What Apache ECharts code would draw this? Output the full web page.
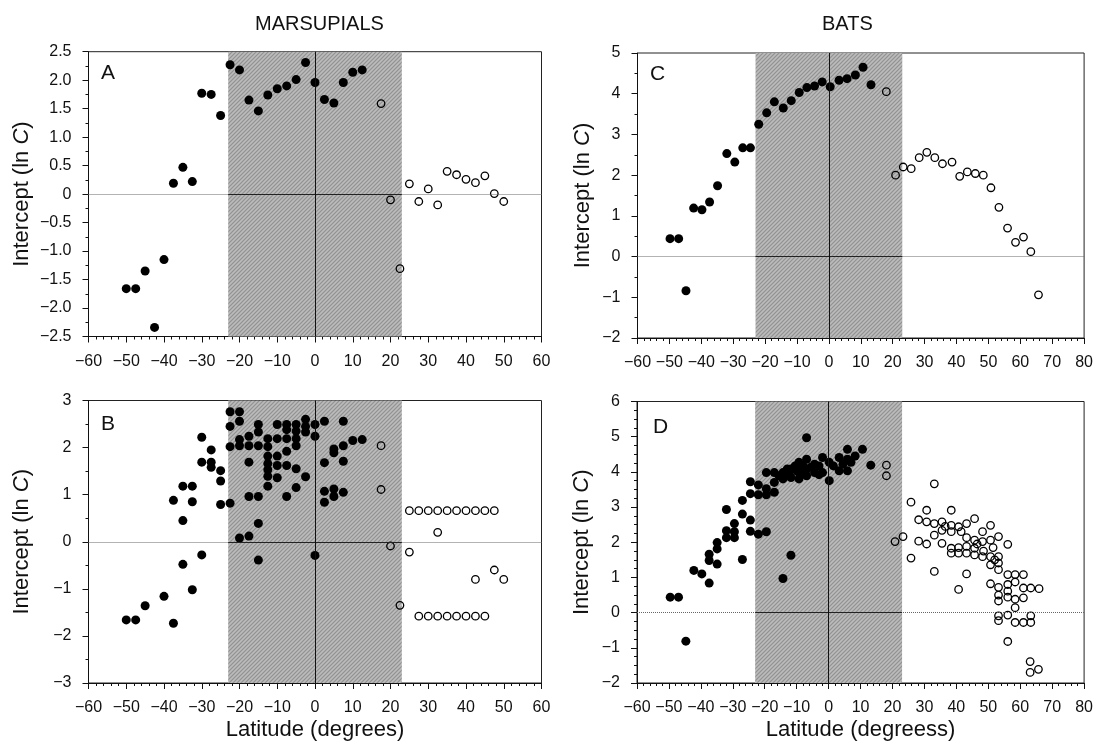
<!DOCTYPE html>
<html>
<head>
<meta charset="utf-8">
<script src="https://cdn.jsdelivr.net/npm/echarts@6/dist/echarts.min.js"></script>
<style>html,body{margin:0;padding:0;background:#fff;}#c{width:1096px;height:742px;}</style>
</head>
<body>
<div id="c"></div>
<script>
// ---------- DATA (latitude, intercept ln C) ----------
const panelTitles = ['MARSUPIALS', 'BATS'];
const panelLetters = ['A', 'B', 'C', 'D'];
const tropicLimits = [-23, 23];

const aFilled = [[-50,-1.66],[-47.5,-1.66],[-45,-1.35],[-42.5,-2.34],[-40,-1.15],[-37.5,0.19],[-35,0.47],[-32.5,0.22],[-30,1.77],[-27.5,1.75],[-25,1.38],[-22.5,2.27],[-20,2.18],[-17.5,1.65],[-15,1.46],[-12.5,1.74],[-10,1.85],[-7.5,1.90],[-5,2.01],[-2.5,2.31],[0,1.96],[2.5,1.66],[5,1.60],[7.5,1.96],[10,2.14],[12.5,2.18]];
const aOpen = [[17.5,1.59],[20,-0.10],[22.5,-1.31],[25,0.18],[27.5,-0.13],[30,0.09],[32.5,-0.19],[35,0.40],[37.5,0.34],[40,0.26],[42.5,0.20],[45,0.32],[47.5,0.01],[50,-0.13]];

const bFilled = [[-50,-1.66],[-47.5,-1.66],[-45,-1.36],[-40,-1.16],[-37.5,-1.73],[-37.5,0.88],[-35,1.18],[-35,0.45],[-35,-0.48],[-32.5,1.18],[-32.5,0.85],[-32.5,-1.02],[-30,2.22],[-30,1.69],[-30,-0.28],[-27.5,1.95],[-27.5,1.69],[-27.5,1.58],[-25,1.51],[-25,1.29],[-25,0.79],[-22.5,0.82],[-22.5,2.76],[-22.5,2.45],[-22.5,2.02],[-20,2.76],[-20,2.56],[-20,2.17],[-20,2.04],[-20,0.08],[-17.5,2.24],[-17.5,2.04],[-17.5,1.69],[-17.5,0.96],[-17.5,0.12],[-15,2.49],[-15,2.33],[-15,2.04],[-15,0.96],[-15,0.39],[-15,-0.39],[-12.5,2.19],[-12.5,2.02],[-12.5,1.82],[-12.5,1.66],[-12.5,1.53],[-12.5,1.39],[-12.5,1.18],[-10,2.49],[-10,2.19],[-10,1.82],[-10,1.62],[-10,1.36],[-7.5,2.49],[-7.5,2.38],[-7.5,2.19],[-7.5,1.92],[-7.5,1.62],[-7.5,0.96],[-5,2.49],[-5,2.35],[-5,2.19],[-5,2.04],[-5,1.55],[-5,1.15],[-2.5,2.60],[-2.5,2.45],[-2.5,2.33],[-2.5,1.38],[0,2.49],[0,2.24],[0,-0.29],[2.5,2.56],[2.5,1.68],[2.5,1.07],[2.5,0.84],[5,1.97],[5,1.89],[5,1.12],[5,0.96],[7.5,2.56],[7.5,2.04],[7.5,1.71],[7.5,1.05],[10,2.15],[12.5,2.17]];
const bOpen = [[17.5,2.04],[17.5,1.11],[20,-0.09],[22.5,-1.35],[25,-0.22],[25,0.66],[27.5,0.66],[30,0.66],[32.5,0.66],[35,0.66],[37.5,0.66],[40,0.66],[42.5,0.66],[45,0.66],[47.5,0.66],[32.5,0.20],[42.5,-0.80],[47.5,-0.60],[50,-0.80],[27.5,-1.58],[30,-1.58],[32.5,-1.58],[35,-1.58],[37.5,-1.58],[40,-1.58],[42.5,-1.58],[45,-1.58]];

const cFilled = [[-49.8,0.44],[-47.1,0.44],[-44.8,-0.84],[-42.4,1.19],[-39.8,1.15],[-37.4,1.34],[-34.9,1.74],[-32.0,2.53],[-29.5,2.32],[-27.0,2.67],[-24.6,2.67],[-22.0,3.25],[-19.5,3.53],[-17.1,3.80],[-14.3,3.65],[-11.8,3.83],[-9.3,4.03],[-6.9,4.15],[-4.5,4.19],[-2.1,4.29],[0.4,4.17],[3.2,4.33],[5.7,4.37],[8.3,4.46],[10.7,4.65],[13.2,4.22]];
const cOpen = [[18.0,4.05],[20.9,2.00],[23.3,2.20],[25.8,2.16],[28.3,2.43],[30.7,2.56],[33.2,2.43],[35.6,2.28],[38.6,2.32],[41.0,1.97],[43.4,2.08],[45.9,2.04],[48.4,2.00],[50.8,1.69],[53.3,1.21],[56.0,0.70],[58.5,0.35],[61.0,0.48],[63.3,0.12],[65.7,-0.94]];

const dFilled = [[-49.6,0.44],[-47.0,0.44],[-44.7,-0.81],[-42.2,1.20],[-39.7,1.10],[-37.4,0.84],[-37.4,1.66],[-37.4,1.48],[-34.9,1.99],[-34.9,1.81],[-34.9,1.38],[-32.0,2.93],[-32.0,2.33],[-32.0,2.13],[-29.5,2.53],[-29.5,2.30],[-29.5,2.13],[-27.0,3.19],[-27.0,2.80],[-27.0,1.51],[-24.5,3.72],[-24.5,3.38],[-24.5,2.63],[-24.5,2.31],[-22.0,3.63],[-22.0,3.35],[-22.0,2.23],[-19.5,3.98],[-19.5,3.35],[-19.5,3.52],[-19.5,2.30],[-17.0,3.98],[-17.0,3.70],[-17.0,3.42],[-14.3,3.98],[-14.3,3.80],[-14.3,0.97],[-11.8,4.08],[-11.8,3.84],[-11.8,1.63],[-9.3,4.27],[-9.3,3.98],[-9.3,3.80],[-6.9,4.97],[-6.9,4.36],[-6.9,4.08],[-6.9,3.89],[-4.4,4.22],[-4.4,3.98],[-1.9,4.41],[-1.9,3.98],[0.2,3.75],[0.2,4.27],[3.3,4.41],[3.3,4.03],[5.9,4.64],[5.9,4.36],[5.9,4.03],[8.3,4.45],[10.6,4.64],[13.2,4.19],[-13.0,4.08],[-10.5,4.17],[-8.0,4.17],[-5.5,4.13],[-3.0,4.17],[-15.5,3.89],[-12.5,3.92],[-10.0,4.03],[-7.5,3.95],[-3.0,3.92],[1.5,4.17],[4.5,4.22],[7.0,4.27]];
const dOpen = [[18.1,4.19],[18.1,3.89],[20.8,2.02],[23.3,2.16],[25.8,3.14],[25.8,1.55],[28.2,2.64],[28.2,2.03],[30.7,2.91],[30.7,2.58],[30.7,1.95],[33.1,3.66],[33.1,2.53],[33.1,2.20],[33.1,1.17],[35.5,2.58],[35.5,2.34],[35.5,1.97],[38.4,2.91],[38.4,2.48],[38.4,2.30],[38.4,1.83],[38.4,1.69],[40.7,2.44],[40.7,1.85],[40.7,1.69],[40.7,0.66],[43.2,2.53],[43.2,2.13],[43.2,1.88],[43.2,1.69],[43.2,1.10],[45.7,2.67],[45.7,2.06],[45.7,1.83],[45.7,1.64],[48.2,2.30],[48.2,2.02],[48.2,1.59],[50.7,2.48],[50.7,2.06],[50.7,1.59],[50.7,1.36],[50.7,0.82],[53.2,2.16],[53.2,1.59],[53.2,1.41],[53.2,1.22],[53.2,0.72],[53.2,0.50],[53.2,0.33],[53.2,-0.09],[53.2,-0.23],[56.1,1.94],[56.1,1.08],[56.1,0.80],[56.1,0.61],[56.1,0.44],[56.1,-0.07],[56.1,-0.82],[58.4,1.08],[58.4,0.87],[58.4,0.38],[58.4,0.14],[58.4,-0.28],[61.0,1.08],[61.0,0.70],[61.0,0.42],[61.0,-0.28],[63.3,0.70],[63.3,-0.09],[63.3,-0.28],[65.9,0.68],[63.1,-1.39],[63.1,-1.70],[65.7,-1.61],[36.5,2.45],[41.5,2.30],[46.5,1.95],[48.5,1.75],[51.5,1.85],[52.0,1.50]];

// axis ranges [xMin, xMax, yMin, yMax, yInterval, yDecimals]
const ranges = [[-60,60,-2.5,2.5,0.5,1],[-60,60,-3,3,1,0],[-60,80,-2,5,1,0],[-60,80,-2,6,1,0]];
const xNames = ['', 'Latitude (degrees)', '', 'Latitude (degreess)'];

// ---------- RENDER ----------
const FONT = 'Liberation Sans, Arial, Helvetica, sans-serif';
const chart = echarts.init(document.getElementById('c'), null, {renderer: 'canvas'});

// fine grey hatch texture for the tropics band
const pc = document.createElement('canvas');
pc.width = 4; pc.height = 4;
const pctx = pc.getContext('2d');
pctx.fillStyle = '#adadad'; pctx.fillRect(0,0,4,4);
pctx.fillStyle = '#939393';
for (let i = 0; i < 4; i++) pctx.fillRect(i, 3 - i, 1, 1);
pctx.fillStyle = '#bcbcbc';
for (let i = 0; i < 4; i++) pctx.fillRect((i + 2) % 4, 3 - i, 1, 1);

function makeFmt(dec) {
  return function (v) {
    if (Math.abs(v) < 1e-9) return '0';
    const s = Math.abs(v).toFixed(dec);
    return (v < 0 ? '\u2212' : '') + s;
  };
}

const grids = [
  {left: 88.5, right: 554.5, top: 51.7, bottom: 405.5},
  {left: 88.5, right: 554.5, top: 400.5, bottom: 57.2},
  {left: 637.5, right: 9.5, top: 53, bottom: 404},
  {left: 637, right: 9.5, top: 401.5, bottom: 56}
].map(g => Object.assign(g, {show: true, borderColor: '#222', borderWidth: 1, backgroundColor: 'transparent'}));

const yGaps = [56, 56, 44, 44];
const yMinor = [2, 2, 2, 4];

const xAxis = ranges.map((r, i) => ({
  type: 'value', gridIndex: i, min: r[0], max: r[1], interval: 10,
  axisLine: {show: true, onZero: false, lineStyle: {color: '#111', width: 1}},
  axisTick: {show: true, inside: false, length: 6, lineStyle: {color: '#111'}},
  minorTick: {show: true, splitNumber: 5, length: 3, lineStyle: {color: '#111'}},
  splitLine: {show: false},
  axisLabel: {formatter: makeFmt(0), fontSize: 16, color: '#111', margin: 17, fontFamily: FONT},
  name: xNames[i], nameLocation: 'middle', nameGap: 36,
  nameTextStyle: {fontSize: 22, color: '#111', fontFamily: FONT}
}));

const yAxis = ranges.map((r, i) => ({
  type: 'value', gridIndex: i, min: r[2], max: r[3], interval: r[4],
  axisLine: {show: true, onZero: false, lineStyle: {color: '#111', width: 1}},
  axisTick: {show: true, inside: false, length: 6, lineStyle: {color: '#111'}},
  minorTick: {show: true, splitNumber: yMinor[i], length: 3, lineStyle: {color: '#111'}},
  splitLine: {show: false},
  axisLabel: {formatter: makeFmt(r[5]), fontSize: 16, color: '#111', margin: 17, fontFamily: FONT},
  name: '{n|Intercept (ln }{i|C}{n|)}', nameLocation: 'middle', nameGap: yGaps[i],
  nameTextStyle: {color: '#111', rich: {
    n: {fontSize: 22, fontFamily: FONT, color: '#111'},
    i: {fontSize: 22, fontFamily: FONT, fontStyle: 'italic', color: '#111'}
  }}
}));

const panelData = [[aFilled, aOpen], [bFilled, bOpen], [cFilled, cOpen], [dFilled, dOpen]];
const series = [];
panelData.forEach((pd, i) => {
  series.push({
    type: 'scatter', xAxisIndex: i, yAxisIndex: i, data: [], z: 1, silent: true,
    markArea: {silent: true, itemStyle: {color: {image: pc, repeat: 'repeat'}},
      data: [[{xAxis: tropicLimits[0]}, {xAxis: tropicLimits[1]}]]},
    markLine: {silent: true, symbol: ['none', 'none'], label: {show: false},
      data: [
        {yAxis: 0, lineStyle: {color: '#666', type: 'dotted', width: 1}},
        [{coord: [tropicLimits[0], 0], lineStyle: {color: '#222', type: 'solid', width: 1}}, {coord: [tropicLimits[1], 0]}],
        {xAxis: 0, lineStyle: {color: '#111', type: 'solid', width: 1}}
      ]}
  });
  series.push({
    type: 'scatter', xAxisIndex: i, yAxisIndex: i, data: pd[0], z: 3,
    symbol: 'circle', symbolSize: 9, itemStyle: {color: '#000', opacity: 1}
  });
  series.push({
    type: 'scatter', xAxisIndex: i, yAxisIndex: i, data: pd[1], z: 3,
    symbol: 'circle', symbolSize: 7.5,
    itemStyle: {color: 'rgba(0,0,0,0)', borderColor: '#000', borderWidth: 1.3, opacity: 1}
  });
});

const letterPos = [[101, 73], [101, 424], [650, 74], [653, 427]];
const graphic = [
  {type: 'text', left: 315 - 60, top: 14, style: {text: panelTitles[0], fontSize: 20, fontFamily: FONT, fill: '#111'}},
  {type: 'text', left: 852 - 30, top: 14, style: {text: panelTitles[1], fontSize: 20, fontFamily: FONT, fill: '#111'}}
];
panelLetters.forEach((L, i) => {
  graphic.push({type: 'text', x: letterPos[i][0], y: letterPos[i][1],
    style: {text: L, fontSize: 21, fontFamily: FONT, fill: '#111', verticalAlign: 'middle'}});
});

chart.setOption({
  animation: false,
  backgroundColor: '#fff',
  grid: grids, xAxis: xAxis, yAxis: yAxis, series: series, graphic: graphic
});
</script>
</body>
</html>
